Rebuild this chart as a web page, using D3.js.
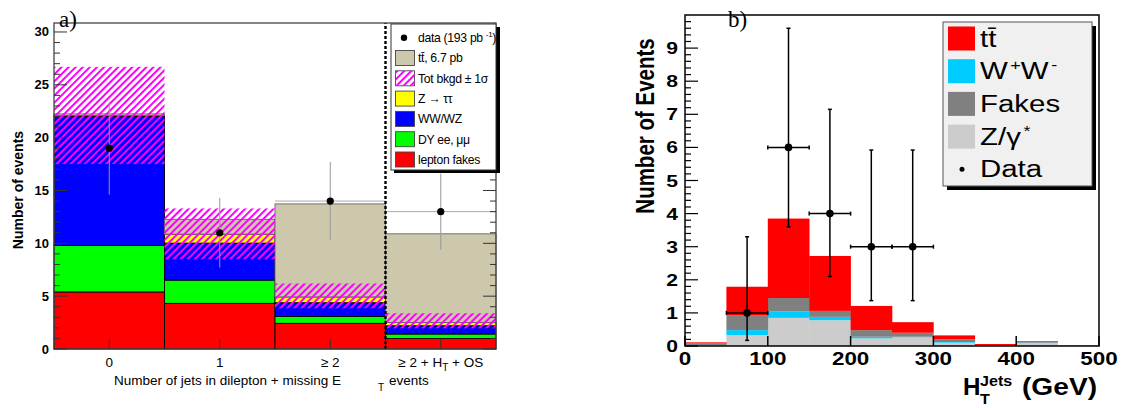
<!DOCTYPE html>
<html><head><meta charset="utf-8">
<script src="https://cdn.jsdelivr.net/npm/d3@7/dist/d3.min.js"></script>
<style>body{margin:0;background:#fff}svg{display:block}</style>
</head><body>
<svg id="c" width="1142" height="408"></svg>
<script>
// ---------- Panel a data ----------
const catsA = ["0", "1", "≥ 2", "≥ 2 + H_T + OS"];
const leptonFakes = [5.4, 4.32, 2.43, 1.0];
const dyEEMM = [4.4, 2.2, 0.65, 0.42];
const wwWZ = [12.2, 3.5, 1.3, 0.78];
const zTauTau = [0.1, 0.85, 0.55, 0.3];
const ttbarA = [0.15, 1.4, 8.8, 8.4];
const bandLow = [17.5, 8.5, 3.85, 1.96];
const bandHigh = [26.7, 13.3, 6.2, 3.38];
const dataA = [19, 11, 14, 13];
const dataAErr = [4.4, 3.3, 3.7, 3.6];
const yTicksA = [0, 5, 10, 15, 20, 25, 30];

// ---------- Panel b data ----------
const binEdgesB = [0, 50, 100, 150, 200, 250, 300, 350, 400, 450, 500];
const zGamma = [0.02, 0.33, 0.85, 0.78, 0.23, 0.26, 0.10, 0.01, 0.09, 0.0];
const wPwM = [0.0, 0.15, 0.19, 0.10, 0.05, 0.02, 0.02, 0.0, 0.01, 0.0];
const fakesB = [0.06, 0.44, 0.41, 0.18, 0.20, 0.12, 0.08, 0.01, 0.03, 0.0];
const ttbarB = [0.03, 0.87, 2.40, 1.66, 0.73, 0.32, 0.12, 0.04, 0.02, 0.01];
const dataBX = [75, 125, 175, 225, 275];
const dataBY = [1, 6, 4, 3, 3];
const dataBLo = [0.17, 3.6, 2.1, 1.37, 1.37];
const dataBHi = [3.3, 9.6, 7.15, 5.92, 5.92];
const yTicksB = [0, 1, 2, 3, 4, 5, 6, 7, 8, 9];
const xTicksB = [0, 100, 200, 300, 400, 500];

const svg = d3.select("#c");
const defs = svg.append("defs");
const pat = defs.append("pattern").attr("id", "hatch").attr("patternUnits", "userSpaceOnUse")
  .attr("width", 5).attr("height", 5).attr("patternTransform", "rotate(45)");
pat.append("rect").attr("x", 0).attr("y", 0).attr("width", 2).attr("height", 5).attr("fill", "#ff00ff");

const SANS = "Liberation Sans, Arial, Helvetica, sans-serif";
const SERIF = "Liberation Serif, Times New Roman, serif";
const SX = 1.28; // horizontal stretch of panel b lettering

// ================= Panel a =================
const gA = svg.append("g");
const xA = d3.scaleLinear().domain([-0.5, 3.5]).range([54, 496]);
const yA = d3.scaleLinear().domain([0, 30.85]).range([349, 23]);

const layersA = [
  {key: "fakes", vals: leptonFakes, color: "#ff0000", stroke: "#000"},
  {key: "dy", vals: dyEEMM, color: "#00ff00", stroke: "#000"},
  {key: "ww", vals: wwWZ, color: "#0000ff", stroke: "#000"},
  {key: "ztt", vals: zTauTau, color: "#ffff00", stroke: "#000"},
  {key: "tt", vals: ttbarA, color: "#cdc7ab", stroke: "#666"}
];
const tableA = catsA.map((c, i) => { const o = {i}; layersA.forEach(l => o[l.key] = l.vals[i]); return o; });
const stackA = d3.stack().keys(layersA.map(l => l.key))(tableA);

// horizontal data error bars (drawn below the stack)
gA.selectAll("line.hx").data(dataA).join("line")
  .attr("x1", (d, i) => xA(i - 0.5)).attr("x2", (d, i) => xA(i + 0.5))
  .attr("y1", d => yA(d)).attr("y2", d => yA(d))
  .attr("stroke", "#aaa").attr("stroke-width", 1);

stackA.forEach((s, k) => {
  gA.append("g").selectAll("rect").data(s).join("rect")
    .attr("x", (d, i) => xA(i - 0.5)).attr("width", xA(0.5) - xA(-0.5))
    .attr("y", d => yA(d[1])).attr("height", d => Math.max(0, yA(d[0]) - yA(d[1])))
    .attr("fill", layersA[k].color).attr("stroke", layersA[k].stroke).attr("stroke-width", 0.9);
});
// hatch band
gA.selectAll("rect.band").data(bandLow).join("rect")
  .attr("x", (d, i) => xA(i - 0.5)).attr("width", xA(0.5) - xA(-0.5))
  .attr("y", (d, i) => yA(bandHigh[i])).attr("height", (d, i) => yA(d) - yA(bandHigh[i]))
  .attr("fill", "url(#hatch)");

// vertical data error bars and points
gA.selectAll("line.vx").data(dataA).join("line")
  .attr("x1", (d, i) => xA(i)).attr("x2", (d, i) => xA(i))
  .attr("y1", (d, i) => yA(d - dataAErr[i])).attr("y2", (d, i) => yA(d + dataAErr[i]))
  .attr("stroke", "#999").attr("stroke-width", 1);
gA.selectAll("circle.pt").data(dataA).join("circle")
  .attr("cx", (d, i) => xA(i)).attr("cy", d => yA(d)).attr("r", 3.6).attr("fill", "#000");

// dashed separator
gA.append("line").attr("x1", xA(2.5)).attr("x2", xA(2.5)).attr("y1", yA(0)).attr("y2", yA(30.85))
  .attr("stroke", "#000").attr("stroke-width", 2.4).attr("stroke-dasharray", "3,2");

// frame
gA.append("rect").attr("x", 54).attr("y", 23).attr("width", 442).attr("height", 326)
  .attr("fill", "none").attr("stroke", "#444").attr("stroke-width", 1.3);
// y ticks
const minorA = d3.range(0, 31, 1);
minorA.forEach(v => {
  const major = v % 5 === 0;
  const len = major ? 13 : 6;
  gA.append("line").attr("x1", 54).attr("x2", 54 + len).attr("y1", yA(v)).attr("y2", yA(v)).attr("stroke", "#333").attr("stroke-width", 1);
  gA.append("line").attr("x1", 496).attr("x2", 496 - len).attr("y1", yA(v)).attr("y2", yA(v)).attr("stroke", "#333").attr("stroke-width", 1);
});
gA.selectAll("text.yl").data(yTicksA).join("text")
  .attr("x", 49).attr("y", d => yA(d) + 4.5).attr("text-anchor", "end")
  .attr("font-family", SANS).attr("font-weight", "bold").attr("font-size", 13).text(d => d);
// x ticks
catsA.forEach((c, i) => {
  gA.append("line").attr("x1", xA(i)).attr("x2", xA(i)).attr("y1", 349).attr("y2", 339).attr("stroke", "#333").attr("stroke-width", 1);
});
catsA.forEach((c, i) => {
  const t = gA.append("text").attr("x", xA(i)).attr("y", 367).attr("text-anchor", "middle")
    .attr("font-family", SANS).attr("font-size", 13.5);
  if (c.includes("H_T")) {
    t.append("tspan").text("≥ 2 + H");
    t.append("tspan").attr("font-size", 10).attr("dy", 4).text("T");
    t.append("tspan").attr("dy", -4).text(" + OS");
  } else t.text(c);
});
// axis titles
const xtA = gA.append("text").attr("x", 114).attr("y", 385).attr("font-family", SANS).attr("font-size", 13.5);
xtA.append("tspan").text("Number of jets in dilepton + missing E");
xtA.append("tspan").attr("x", 378).attr("dy", 6).attr("font-size", 10).text("T");
xtA.append("tspan").attr("x", 389).attr("dy", -6).text("events");
gA.append("text").attr("transform", "translate(23,190) rotate(-90)").attr("text-anchor", "middle")
  .attr("font-family", SANS).attr("font-weight", "bold").attr("font-size", 14).text("Number of events");
gA.append("text").attr("x", 59).attr("y", 27).attr("font-family", SERIF).attr("font-size", 23).text("a)");

// legend a
const lgA = gA.append("g");
lgA.append("rect").attr("x", 394).attr("y", 27).attr("width", 106).attr("height", 146).attr("fill", "#000");
lgA.append("rect").attr("x", 391).attr("y", 24).attr("width", 105).attr("height", 146).attr("fill", "#fff").attr("stroke", "#333").attr("stroke-width", 1);
const legA = [
  {type: "dot", label: ["data (193 pb", "-1", ")"]},
  {type: "box", color: "#cdc7ab", label: ["tt\u0304, 6.7 pb"]},
  {type: "hatch", label: ["Tot bkgd ± 1σ"]},
  {type: "box", color: "#ffff00", label: ["Z → ττ"]},
  {type: "box", color: "#0000ff", label: ["WW/WZ"]},
  {type: "box", color: "#00ff00", label: ["DY ee, μμ"]},
  {type: "box", color: "#ff0000", label: ["lepton fakes"]}
];
legA.forEach((e, i) => {
  const cy = 37.7 + i * 20.3;
  if (e.type === "dot") lgA.append("circle").attr("cx", 404).attr("cy", cy).attr("r", 3.2).attr("fill", "#000");
  else {
    lgA.append("rect").attr("x", 395.5).attr("y", cy - 7.5).attr("width", 19).attr("height", 15)
      .attr("fill", e.type === "hatch" ? "#fff" : e.color).attr("stroke", "#444").attr("stroke-width", 0.9);
    if (e.type === "hatch") lgA.append("rect").attr("x", 395.5).attr("y", cy - 7.5).attr("width", 19).attr("height", 15).attr("fill", "url(#hatch)");
  }
  const t = lgA.append("text").attr("x", 418).attr("y", cy + 4.3).attr("font-family", SANS).attr("font-size", 12.2).attr("letter-spacing", -0.3);
  t.append("tspan").text(e.label[0]);
  if (e.label.length > 1) {
    t.append("tspan").attr("dx", 3).attr("dy", -5).attr("font-size", 8).text(e.label[1]);
    t.append("tspan").attr("dy", 5).text(e.label[2]);
  }
});

// ================= Panel b =================
const gB = svg.append("g");
const xB = d3.scaleLinear().domain([0, 500]).range([685, 1099]);
const yB = d3.scaleLinear().domain([0, 10]).range([346, 15]);
const layersB = [
  {key: "z", vals: zGamma, color: "#cccccc"},
  {key: "w", vals: wPwM, color: "#00ccff"},
  {key: "f", vals: fakesB, color: "#808080"},
  {key: "t", vals: ttbarB, color: "#ff0000"}
];
const tableB = zGamma.map((v, i) => { const o = {i}; layersB.forEach(l => o[l.key] = l.vals[i]); return o; });
const stackB = d3.stack().keys(layersB.map(l => l.key))(tableB);
stackB.forEach((s, k) => {
  gB.append("g").selectAll("rect").data(s).join("rect")
    .attr("x", (d, i) => xB(binEdgesB[i])).attr("width", (d, i) => xB(binEdgesB[i + 1]) - xB(binEdgesB[i]) + 0.3)
    .attr("y", d => yB(d[1])).attr("height", d => Math.max(0, yB(d[0]) - yB(d[1])))
    .attr("fill", layersB[k].color);
});
// data
dataBX.forEach((x, i) => {
  const cx = xB(x), cy = yB(dataBY[i]);
  const ylo = yB(dataBLo[i]), yhi = yB(dataBHi[i]);
  const xl = xB(x - 25), xr = xB(x + 25);
  const segs = [[cx, ylo, cx, yhi], [xl, cy, xr, cy], [cx - 2, ylo, cx + 2, ylo], [cx - 2, yhi, cx + 2, yhi], [xl, cy - 2, xl, cy + 2], [xr, cy - 2, xr, cy + 2]];
  segs.forEach(s => gB.append("line").attr("x1", s[0]).attr("y1", s[1]).attr("x2", s[2]).attr("y2", s[3]).attr("stroke", "#000").attr("stroke-width", 1.5));
  gB.append("circle").attr("cx", cx).attr("cy", cy).attr("r", 3.8).attr("fill", "#000");
});
// frame
gB.append("rect").attr("x", 685).attr("y", 15).attr("width", 414).attr("height", 331).attr("fill", "none").attr("stroke", "#000").attr("stroke-width", 1.5);
d3.range(0, 50, 1).forEach(k => {
  const v = k * 0.2; const major = k % 5 === 0;
  gB.append("line").attr("x1", 685).attr("x2", 685 + (major ? 13 : 6)).attr("y1", yB(v)).attr("y2", yB(v)).attr("stroke", "#000").attr("stroke-width", 1.2);
});
xTicksB.forEach(v => gB.append("line").attr("x1", xB(v)).attr("x2", xB(v)).attr("y1", 346).attr("y2", 336).attr("stroke", "#000").attr("stroke-width", 1.5));
gB.selectAll("text.yl").data(yTicksB).join("text")
  .attr("transform", d => `translate(678,${yB(d) + 6}) scale(${SX},1)`).attr("text-anchor", "end")
  .attr("font-family", SANS).attr("font-weight", "bold").attr("font-size", 16.5).text(d => d);
gB.selectAll("text.xl").data(xTicksB).join("text")
  .attr("transform", d => `translate(${xB(d)},365) scale(${SX},1)`).attr("text-anchor", "middle")
  .attr("font-family", SANS).attr("font-weight", "bold").attr("font-size", 17.5).text(d => d);
gB.append("text").attr("transform", `translate(654,126) scale(${SX},1) rotate(-90)`).attr("text-anchor", "middle")
  .attr("font-family", SANS).attr("font-weight", "bold").attr("font-size", 20.5).text("Number of Events");
const FB = {family: SANS};
gB.append("text").attr("transform", `translate(963,395) scale(1.05,1)`).attr("font-family", SANS).attr("font-weight", "bold").attr("font-size", 23).text("H");
gB.append("text").attr("transform", `translate(980,386) scale(1.15,1)`).attr("font-family", SANS).attr("font-weight", "bold").attr("font-size", 14).text("Jets");
gB.append("text").attr("transform", `translate(980,404) scale(1.15,1)`).attr("font-family", SANS).attr("font-weight", "bold").attr("font-size", 14).text("T");
gB.append("text").attr("x", 1022).attr("y", 395).attr("font-family", SANS).attr("font-weight", "bold").attr("font-size", 23)
  .attr("textLength", 75).attr("lengthAdjust", "spacingAndGlyphs").text("(GeV)");
gB.append("text").attr("x", 728).attr("y", 27).attr("font-family", SERIF).attr("font-size", 23).text("b)");

// legend b
const lgB = gB.append("g");
lgB.append("rect").attr("x", 947).attr("y", 26).attr("width", 149).attr("height", 164).attr("fill", "#000");
lgB.append("rect").attr("x", 943).attr("y", 22).attr("width", 149).attr("height", 164).attr("fill", "#f0f0f0").attr("stroke", "#555").attr("stroke-width", 1);
const legB = [
  {color: "#ff0000", parts: [["tt\u0304", 0]]},
  {color: "#00ccff", parts: [["W", 0], ["+", -9], ["W", 0], ["-", -9]]},
  {color: "#808080", parts: [["Fakes", 0]]},
  {color: "#cccccc", parts: [["Z/γ", 0], ["*", -9]]},
  {color: null, parts: [["Data", 0]]}
];
legB.forEach((e, i) => {
  const cy = 38.5 + i * 32.7;
  if (e.color) lgB.append("rect").attr("x", 948).attr("y", cy - 12).attr("width", 27).attr("height", 24).attr("fill", e.color);
  else lgB.append("circle").attr("cx", 962).attr("cy", cy).attr("r", 2.5).attr("fill", "#000");
  const t = lgB.append("text").attr("transform", `translate(980,${cy + 8}) scale(${SX},1)`).attr("font-family", SANS).attr("font-size", 23);
  let prev = 0;
  e.parts.forEach(p => {
    const ts = t.append("tspan").attr("dy", p[1] - prev).text(p[0]);
    if (p[1] !== 0) ts.attr("font-size", 14).attr("dx", 2);
    prev = p[1];
  });
});
</script>
</body></html>
